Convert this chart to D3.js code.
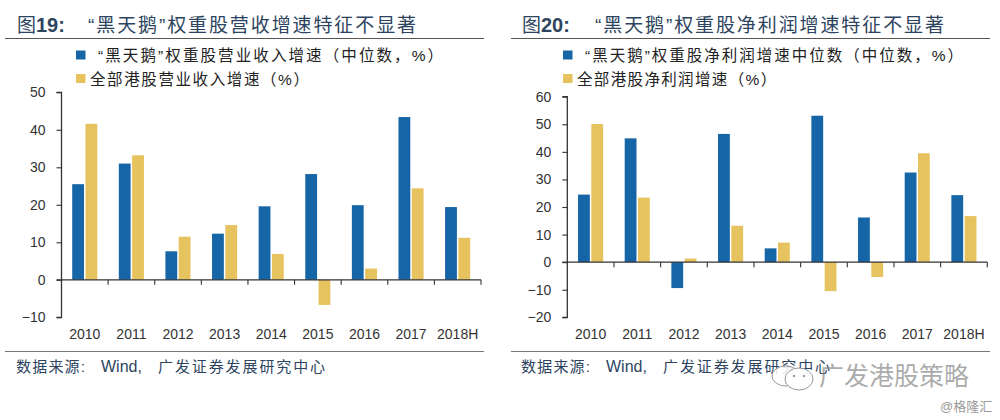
<!DOCTYPE html>
<html><head><meta charset="utf-8">
<script src="https://cdn.jsdelivr.net/npm/d3@7/dist/d3.min.js"></script>
<style>
html,body{margin:0;padding:0;background:#fff}
svg{display:block}
text{font-family:"Liberation Sans",Arial,sans-serif}
.cjk{font-family:"Liberation Sans","Noto Sans CJK SC",sans-serif}
</style></head><body><svg id="c" width="1000" height="420"></svg>
<script>
const categories = ["2010","2011","2012","2013","2014","2015","2016","2017","2018H"];
const revenueBlackSwan = [25.5,31,7.6,12.3,19.6,28.2,19.9,43.4,19.4];
const revenueAllHK = [41.6,33.2,11.5,14.6,6.9,-6.7,3,24.4,11.2];
const profitBlackSwan = [24.5,44.9,-9.4,46.5,5,53.1,16.2,32.5,24.3];
const profitAllHK = [50.1,23.4,1.3,13.2,7.1,-10.5,-5.4,39.5,16.7];
const ticksLeft = [-10,0,10,20,30,40,50];
const ticksRight = [-20,-10,0,10,20,30,40,50,60];
const titleLeft = ["图","19:","“黑天鹅”权重股营收增速特征不显著"];
const titleRight = ["图","20:","“黑天鹅”权重股净利润增速特征不显著"];
const legendLeft = ["“黑天鹅”权重股营业收入增速（中位数，%）","全部港股营业收入增速（%）"];
const legendRight = ["“黑天鹅”权重股净利润增速中位数（中位数，%）","全部港股净利润增速（%）"];
const sourceText = ["数据来源:","Wind,","广发证券发展研究中心"];
const watermark = "广发港股策略";
const credit = "@格隆汇";

const BLUE="#1665a6", YELLOW="#e6c35f", INK="#2d4460", AXIS="#333";
const svg=d3.select("#c");

function panel(o){
  const g=svg.append("g");
  // header
  g.append("text").attr("class","cjk").attr("x",o.tx).attr("y",32).attr("font-size",19).attr("fill",INK).text(o.title[0]);
  g.append("text").attr("x",o.tx+19).attr("y",32).attr("font-size",20).attr("font-weight","bold").attr("fill",INK).text(o.title[1]);
  g.append("text").attr("class","cjk").attr("x",o.tx+o.tdx).attr("y",32).attr("font-size",19).attr("fill",INK).attr("letter-spacing",o.tls).text(o.title[2]);
  g.append("line").attr("x1",o.r0).attr("x2",o.r1).attr("y1",38.5).attr("y2",38.5).attr("stroke","#555").attr("stroke-width",1);
  // legend
  [BLUE,YELLOW].forEach((c,i)=>{
    const y=[50.5,74][i];
    g.append("rect").attr("x",o.lx).attr("y",y).attr("width",9.5).attr("height",9).attr("fill",c);
    g.append("text").attr("class","cjk").attr("x",i?o.lx+14:o.lx+22).attr("y",y+10.5).attr("font-size",15.5).attr("fill","#222")
      .attr("letter-spacing",o.lls[i]).text(o.legend[i]);
  });
  // scales
  const x=d3.scaleBand().domain(categories).range([o.x0,o.x1]);
  const y=d3.scaleLinear().domain(o.dom).range([o.yb,o.yt]);
  const bw=11.8, off=[x.bandwidth()/2-12.6,x.bandwidth()/2+0.7];
  [o.a,o.b].forEach((vals,k)=>{
    g.append("g").selectAll("rect").data(vals).join("rect")
      .attr("x",(d,i)=>x(categories[i])+off[k]).attr("width",bw)
      .attr("y",d=>Math.min(y(d),y(0))).attr("height",d=>Math.abs(y(d)-y(0)))
      .attr("fill",k?YELLOW:BLUE);
  });
  // y axis
  const ya=g.append("g").attr("transform",`translate(${o.x0},0)`)
    .call(d3.axisLeft(y).tickValues(o.ticks).tickSize(5).tickPadding(11).tickFormat(d3.format("d")));
  ya.selectAll("path").attr("d",`M-5,${o.yt}H0V${o.yb}H-5`).attr("stroke",AXIS).attr("stroke-width",1.3).attr("fill","none");
  ya.selectAll("line").attr("stroke",AXIS).attr("stroke-width",1.1);
  ya.selectAll("text").attr("font-size",14).attr("fill","#333").attr("font-family",'"Liberation Sans",Arial,sans-serif');
  // x axis line along zero with ticks at band boundaries
  const xa=g.append("g").attr("transform",`translate(0,${y(0)})`);
  xa.append("line").attr("x1",o.x0-5).attr("x2",o.x1).attr("stroke",AXIS).attr("stroke-width",1.3);
  categories.forEach(c=>{
    const t=x(c)+x.bandwidth();
    xa.append("line").attr("x1",t).attr("x2",t).attr("y1",0).attr("y2",5).attr("stroke",AXIS).attr("stroke-width",1.1);
  });
  // category labels
  g.append("g").selectAll("text").data(categories).join("text")
    .attr("x",d=>x(d)+x.bandwidth()/2).attr("y",339).attr("text-anchor","middle")
    .attr("font-size",14).attr("fill","#333").text(d=>d);
  // footer
  g.append("line").attr("x1",o.r0).attr("x2",o.r1).attr("y1",351.5).attr("y2",351.5).attr("stroke","#777").attr("stroke-width",1.2);
  g.append("text").attr("class","cjk").attr("x",o.tx-1).attr("y",372).attr("font-size",15).attr("fill",INK).attr("letter-spacing",1.2).text(sourceText[0]);
  g.append("text").attr("x",o.tx+84).attr("y",372).attr("font-size",16).attr("fill",INK).text(sourceText[1]);
  g.append("text").attr("class","cjk").attr("x",o.tx+141).attr("y",372).attr("font-size",15).attr("fill",INK).attr("letter-spacing",1.9).text(sourceText[2]);
}

panel({tx:17,tdx:71,tls:1.9,title:titleLeft,r0:5,r1:484,lx:76,legend:legendLeft,lls:[2.1,1.6],
  x0:61.5,x1:481,yt:92.3,yb:317.3,dom:[-10,50],ticks:ticksLeft,a:revenueBlackSwan,b:revenueAllHK});
panel({tx:522,tdx:73,tls:1.9,title:titleRight,r0:511,r1:990,lx:563,legend:legendRight,lls:[2.0,1.35],
  x0:567.3,x1:987.3,yt:96.7,yb:317.3,dom:[-20,60],ticks:ticksRight,a:profitBlackSwan,b:profitAllHK});

// watermark
const wm=svg.append("g");
wm.append("ellipse").attr("cx",786).attr("cy",376).attr("rx",14).attr("ry",10).attr("fill","#fff").attr("fill-opacity",.85).attr("stroke","#9a9a9a").attr("stroke-width",1);
wm.append("ellipse").attr("cx",799).attr("cy",379).attr("rx",14).attr("ry",11).attr("fill","#fff").attr("fill-opacity",.95).attr("stroke","#9a9a9a").attr("stroke-width",1);
wm.append("circle").attr("cx",794).attr("cy",376).attr("r",1.2).attr("fill","#9a9a9a");
wm.append("circle").attr("cx",804).attr("cy",376).attr("r",1.2).attr("fill","#9a9a9a");
wm.append("text").attr("class","cjk").attr("x",819).attr("y",385).attr("font-size",25).attr("fill","#8f8f8f").attr("fill-opacity",.75).text(watermark);
wm.append("text").attr("class","cjk").attr("x",940).attr("y",411).attr("font-size",13).attr("fill","#9a9a9a").text(credit);
</script></body></html>
